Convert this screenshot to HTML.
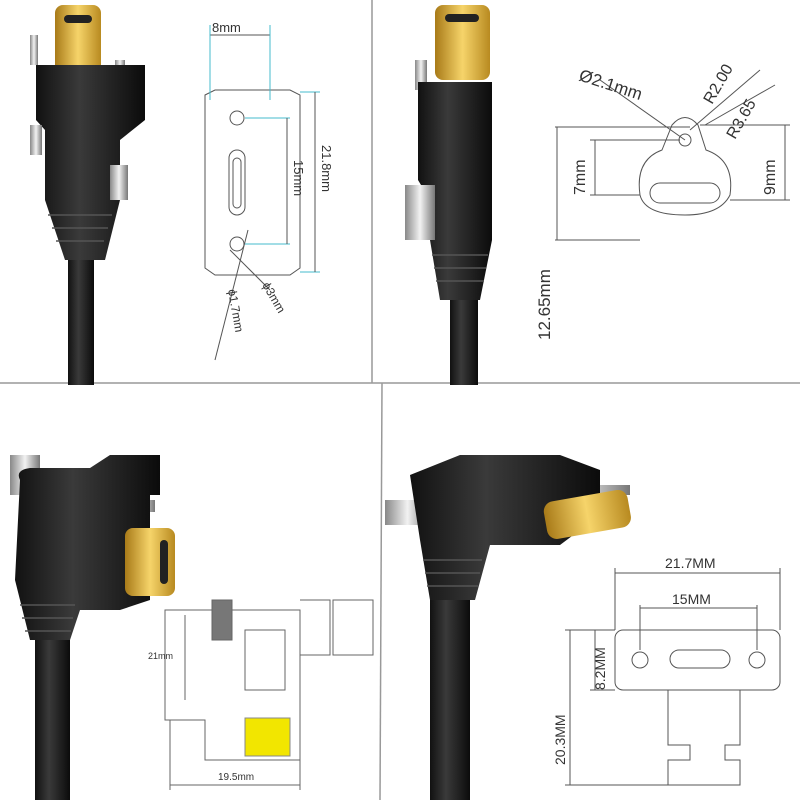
<!DOCTYPE html>
<html><head><meta charset="utf-8"><style>
body{margin:0;background:#fff}
svg{display:block}
text{font-family:"Liberation Sans",sans-serif;fill:#333}
</style></head><body>
<svg width="800" height="800" viewBox="0 0 800 800">
<rect width="800" height="800" fill="#fff"/>
<defs>
<linearGradient id="gold" x1="0" x2="1"><stop offset="0" stop-color="#a87a18"/><stop offset=".5" stop-color="#f6d46a"/><stop offset="1" stop-color="#b88a20"/></linearGradient>
<linearGradient id="blk" x1="0" x2="1"><stop offset="0" stop-color="#111"/><stop offset=".4" stop-color="#3a3a3a"/><stop offset="1" stop-color="#0b0b0b"/></linearGradient>
<linearGradient id="sil" x1="0" x2="1"><stop offset="0" stop-color="#888"/><stop offset=".5" stop-color="#f2f2f2"/><stop offset="1" stop-color="#777"/></linearGradient>
</defs>
<line x1="372" y1="0" x2="372" y2="383" stroke="#999" stroke-width="1.5"/>
<line x1="0" y1="383" x2="800" y2="383" stroke="#999" stroke-width="1.5"/>
<line x1="382" y1="383" x2="380" y2="800" stroke="#999" stroke-width="1.5"/>

<!-- TL cable -->
<rect x="68" y="240" width="26" height="145" fill="url(#blk)"/>
<rect x="55" y="5" width="46" height="70" rx="8" fill="url(#gold)"/>
<rect x="64" y="15" width="28" height="8" rx="4" fill="#222"/>
<rect x="30" y="35" width="8" height="30" fill="url(#sil)"/>
<rect x="115" y="60" width="10" height="25" fill="url(#sil)"/>
<path d="M36 65 H145 V120 L120 140 V200 L105 260 H65 L45 200 V130 L36 120 Z" fill="url(#blk)"/>
<g stroke="#555" stroke-width="1.5"><line x1="48" y1="215" x2="112" y2="215"/><line x1="52" y1="228" x2="108" y2="228"/><line x1="56" y1="241" x2="104" y2="241"/></g>
<rect x="30" y="125" width="12" height="30" fill="url(#sil)"/>
<rect x="110" y="165" width="18" height="35" fill="url(#sil)"/>
<g fill="none" stroke="#555" stroke-width="1">
<path d="M205 95 L215 90 H290 L300 95 V268 L290 275 H215 L205 268 Z"/>
<circle cx="237" cy="118" r="7"/><circle cx="237" cy="244" r="7"/>
<rect x="229" y="150" width="16" height="65" rx="8"/><rect x="233" y="158" width="8" height="50" rx="4"/>
<line x1="210" y1="35" x2="270" y2="35"/><line x1="210" y1="25" x2="210" y2="100" stroke="#4bc"/><line x1="270" y1="25" x2="270" y2="100" stroke="#4bc"/>
<line x1="245" y1="118" x2="290" y2="118" stroke="#4bc"/><line x1="245" y1="244" x2="290" y2="244" stroke="#4bc"/>
<line x1="287" y1="118" x2="287" y2="244"/>
<line x1="300" y1="92" x2="320" y2="92" stroke="#4bc"/><line x1="300" y1="272" x2="320" y2="272" stroke="#4bc"/>
<line x1="315" y1="92" x2="315" y2="272"/>
<line x1="248" y1="230" x2="215" y2="360"/><line x1="230" y1="250" x2="270" y2="290"/>
</g>
<text x="212" y="32" font-size="13">8mm</text>
<text transform="translate(294,160) rotate(90)" font-size="13">15mm</text>
<text transform="translate(322,145) rotate(90)" font-size="13">21.8mm</text>
<text transform="translate(228,290) rotate(80)" font-size="12">ϕ1.7mm</text>
<text transform="translate(262,285) rotate(60)" font-size="12">ϕ3mm</text>

<!-- TR cable -->
<rect x="450" y="290" width="28" height="95" fill="url(#blk)"/>
<rect x="435" y="5" width="55" height="75" rx="8" fill="url(#gold)"/>
<rect x="445" y="14" width="34" height="8" rx="4" fill="#222"/>
<rect x="415" y="60" width="12" height="30" fill="url(#sil)"/>
<path d="M418 82 H492 V240 L480 300 H440 L430 240 V200 L418 180 Z" fill="url(#blk)"/>
<g stroke="#555" stroke-width="1.5"><line x1="432" y1="255" x2="488" y2="255"/><line x1="434" y1="268" x2="486" y2="268"/><line x1="436" y1="281" x2="484" y2="281"/></g>
<rect x="405" y="185" width="30" height="55" fill="url(#sil)"/>
<g fill="none" stroke="#555" stroke-width="1">
<path d="M662 150 L672 125 Q685 110 698 125 L706 150 Q735 160 730 195 Q720 215 685 215 Q645 215 640 195 Q635 160 662 150Z"/>
<circle cx="685" cy="140" r="6"/>
<rect x="650" y="183" width="70" height="20" rx="10"/>
<line x1="555" y1="127" x2="690" y2="127"/><line x1="555" y1="240" x2="640" y2="240"/>
<line x1="557" y1="127" x2="557" y2="240"/>
<line x1="590" y1="140" x2="680" y2="140"/><line x1="590" y1="195" x2="640" y2="195"/>
<line x1="595" y1="140" x2="595" y2="195"/>
<line x1="700" y1="125" x2="790" y2="125"/><line x1="730" y1="200" x2="790" y2="200"/>
<line x1="785" y1="125" x2="785" y2="200"/>
<line x1="600" y1="80" x2="685" y2="140"/><line x1="690" y1="130" x2="760" y2="70"/><line x1="705" y1="125" x2="775" y2="85"/>
</g>
<text x="578" y="80" font-size="17" transform="rotate(18,578,80)">Ø2.1mm</text>
<text transform="translate(712,105) rotate(-60)" font-size="16">R2.00</text>
<text transform="translate(735,140) rotate(-60)" font-size="16">R3.65</text>
<text transform="translate(585,195) rotate(-90)" font-size="16">7mm</text>
<text transform="translate(775,195) rotate(-90)" font-size="16">9mm</text>
<text transform="translate(550,340) rotate(-90)" font-size="17">12.65mm</text>

<!-- BL cable -->
<rect x="35" y="620" width="35" height="180" fill="url(#blk)"/>
<rect x="10" y="455" width="30" height="40" fill="url(#sil)"/>
<rect x="125" y="500" width="30" height="12" fill="url(#sil)"/>
<path d="M20 480 Q15 470 30 468 H90 L110 455 H160 V495 H150 V600 L120 610 H80 L70 640 H30 L15 580 Z" fill="url(#blk)"/>
<g stroke="#555" stroke-width="1.5"><line x1="20" y1="605" x2="75" y2="605"/><line x1="22" y1="618" x2="73" y2="618"/><line x1="25" y1="631" x2="71" y2="631"/></g>
<rect x="125" y="528" width="50" height="68" rx="8" fill="url(#gold)"/>
<rect x="160" y="540" width="8" height="44" rx="4" fill="#222"/>
<g fill="none" stroke="#666" stroke-width="1">
<path d="M165 610 H300 V760 H205 V720 H165 Z"/>
<rect x="245" y="630" width="40" height="60"/>
<rect x="212" y="600" width="20" height="40" fill="#777"/>
<path d="M300 600 H330 V655 H300"/>
<rect x="333" y="600" width="40" height="55"/>
<line x1="170" y1="720" x2="170" y2="790"/><line x1="300" y1="760" x2="300" y2="790"/><line x1="170" y1="785" x2="300" y2="785"/>
<line x1="185" y1="615" x2="185" y2="700"/>
</g>
<rect x="245" y="718" width="45" height="38" fill="#f2e600" stroke="#888"/>
<text x="148" y="659" font-size="9">21mm</text>
<text x="218" y="780" font-size="10">19.5mm</text>

<!-- BR cable -->
<rect x="430" y="560" width="40" height="240" fill="url(#blk)"/>
<rect x="385" y="500" width="45" height="25" fill="url(#sil)"/>
<rect x="520" y="485" width="110" height="10" fill="url(#sil)"/>
<rect x="520" y="520" width="60" height="10" fill="url(#sil)"/>
<path d="M410 475 L460 455 H560 L600 470 V515 L560 545 H490 L475 600 H430 L420 540 Z" fill="url(#blk)"/>
<g stroke="#555" stroke-width="1.5"><line x1="423" y1="560" x2="482" y2="560"/><line x1="425" y1="573" x2="480" y2="573"/><line x1="427" y1="586" x2="478" y2="586"/></g>
<rect x="545" y="495" width="85" height="38" rx="10" fill="url(#gold)" transform="rotate(-10,590,515)"/>
<g fill="none" stroke="#555" stroke-width="1">
<rect x="615" y="630" width="165" height="60" rx="8"/>
<circle cx="640" cy="660" r="8"/><circle cx="757" cy="660" r="8"/>
<rect x="670" y="650" width="60" height="18" rx="9"/>
<path d="M668 690 V745 H690 V760 H668 V785 H740 V760 H725 V745 H740 V690"/>
<line x1="615" y1="568" x2="615" y2="630"/><line x1="780" y1="568" x2="780" y2="630"/><line x1="615" y1="573" x2="780" y2="573"/>
<line x1="640" y1="605" x2="640" y2="650"/><line x1="757" y1="605" x2="757" y2="650"/><line x1="640" y1="608" x2="757" y2="608"/>
<line x1="565" y1="630" x2="615" y2="630"/><line x1="565" y1="785" x2="668" y2="785"/><line x1="570" y1="630" x2="570" y2="785"/>
<line x1="595" y1="630" x2="595" y2="690"/><line x1="590" y1="690" x2="615" y2="690"/>
</g>
<text x="665" y="568" font-size="14">21.7MM</text>
<text x="672" y="604" font-size="14">15MM</text>
<text transform="translate(605,690) rotate(-90)" font-size="14">8.2MM</text>
<text transform="translate(565,765) rotate(-90)" font-size="14">20.3MM</text>
</svg>
</body></html>
